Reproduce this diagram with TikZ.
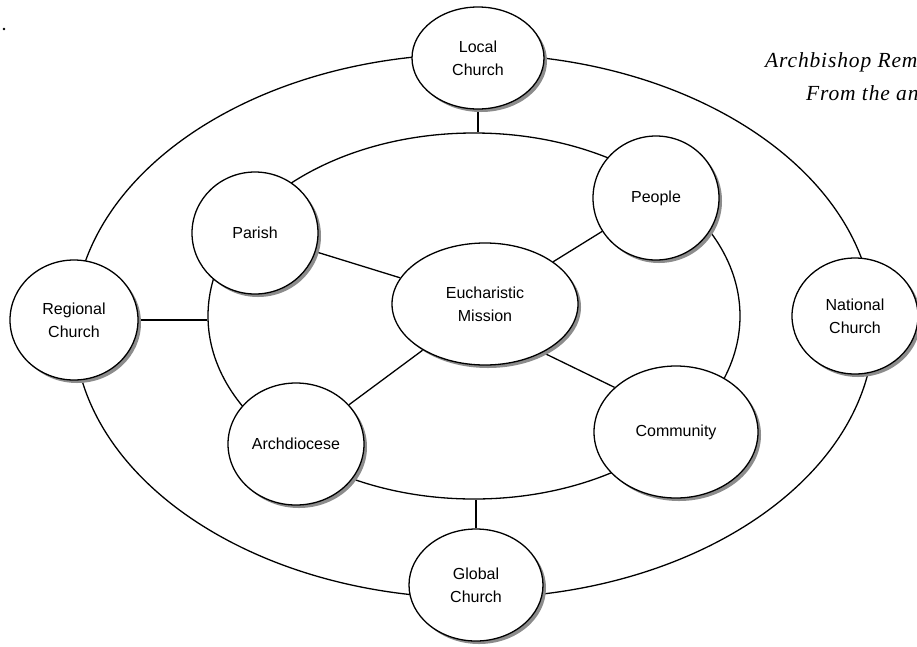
\documentclass[tikz,border=0pt]{standalone}
\usepackage{fontspec}
\setmainfont{Liberation Sans}
\newfontfamily\capfont[LetterSpace=4]{Liberation Serif}
\usetikzlibrary{shapes.geometric,shadows}
\pgfdeclarelayer{background}
\pgfsetlayers{background,main}
\begin{document}
\begin{tikzpicture}[x=1pt,y=-1pt,
  ring/.style={ellipse,draw,line width=1.3pt,inner sep=0pt},
  bub/.style={ellipse,draw,fill=white,line width=1.3pt,inner sep=0pt,align=center,
    font=\fontsize{16}{23}\selectfont,
    drop shadow={shadow xshift=3pt,shadow yshift=-3pt,fill=black!45,opacity=1}},
  link/.style={line width=1.3pt},
  caption/.style={anchor=base west,inner sep=0pt,font=\capfont\itshape\fontsize{21.5}{24}\selectfont}]
\useasboundingbox (0,0) rectangle (917,646);
% bubbles
\node[bub,minimum width=132pt,minimum height=102pt] (loc) at (478,58) {Local\\Church};
\node[bub,minimum width=126pt,minimum height=122pt] (par) at (255,233) {Parish};
\node[bub,minimum width=126pt,minimum height=124pt] (peo) at (656,198) {People};
\node[bub,minimum width=186pt,minimum height=122pt] (euc) at (485,304) {Eucharistic\\Mission};
\node[bub,minimum width=128pt,minimum height=120pt] (reg) at (74,320) {Regional\\Church};
\node[bub,minimum width=126pt,minimum height=116pt] (nat) at (855,316) {National\\Church};
\node[bub,minimum width=136pt,minimum height=122pt] (arc) at (296,444) {Archdiocese};
\node[bub,minimum width=164pt,minimum height=132pt] (com) at (676,432) {Community};
\node[bub,minimum width=134pt,minimum height=112pt] (glo) at (476,585) {Global\\Church};
% rings and connectors
\begin{pgfonlayer}{background}
\fill[white] (0,0) rectangle (917,646);
\node[ring,minimum width=800pt,minimum height=544pt] (outer) at (474,326) {};
\node[ring,minimum width=532pt,minimum height=366pt] (inner) at (474,316) {};
\draw[link] (loc.south) -- (loc.south |- inner.north);
\draw[link] (glo.north) -- (glo.north |- inner.south);
\draw[link] (reg.east) -- (reg.east -| inner.west);
\draw[link] (par) -- (euc);
\draw[link] (peo) -- (euc);
\draw[link] (arc) -- (euc);
\draw[link] (com.144) -- (euc.-40);
\end{pgfonlayer}
% caption text, cut at the right edge
\begin{scope}
\clip (0,0) rectangle (917,646);
\node[caption] (t1) at (765,67) {Archbishop Rem};
\node[caption] (t2) at (806,100) {From the an};
\end{scope}
\fill (4,29) circle (1.4);
\end{tikzpicture}
\end{document}
